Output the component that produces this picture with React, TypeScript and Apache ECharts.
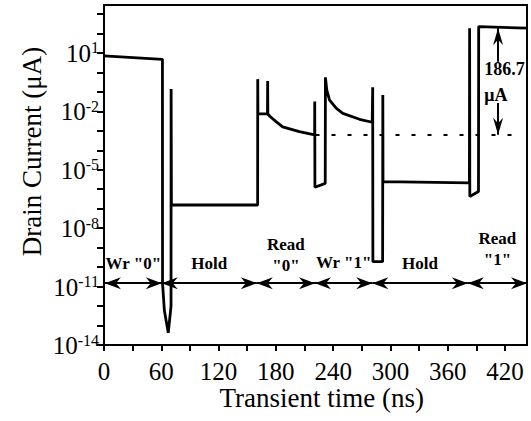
import { useEffect, useRef } from 'react';
import * as echarts from 'echarts';

const FONT = 'Liberation Serif';

// Transient drain current trace (time in ns, current in µA)
const traceTime = [
  0, 61.2, 61.3, 62.5, 63.2, 67.3, 70.2, 70.3, 70.6,
  160.9, 161.0, 161.2, 171.2, 171.4, 171.6, 173.9, 180.2, 187.1, 204.6, 220.6,
  220.7, 220.9, 231.7, 231.9, 233.3, 236.1, 243.1, 250.1, 267.6, 280.9,
  281.3, 281.4, 281.6, 291.8, 292.0, 292.2,
  382.7, 382.9, 383.1, 392.2, 392.4, 443,
];
const traceCurrent = [
  7.0, 4.7, 1.5e-11, 2e-12, 6e-13, 4.2e-14, 1e-12, 0.14, 1.55e-7,
  1.55e-7, 0.45, 7.4e-3, 7.4e-3, 0.36, 7.3e-3, 5.4e-3, 2.95e-3, 1.6e-3, 9.1e-4, 6.2e-4,
  0.032, 1.26e-6, 2.0e-6, 0.56, 0.126, 0.039, 0.0145, 7.9e-3, 3.9e-3, 2.75e-3,
  2.75e-3, 0.17, 1.9e-10, 1.9e-10, 0.069, 2.45e-6,
  2.1e-6, 186, 4.2e-7, 7.6e-7, 224, 186,
];

const xTickValues = [0, 30, 60, 90, 120, 150, 180, 210, 240, 270, 300, 330, 360, 390, 420];
const xLabelValues = [0, 60, 120, 180, 240, 300, 360, 420];
const yTickExponents = [-14, -13, -12, -11, -10, -9, -8, -7, -6, -5, -4, -3, -2, -1, 0, 1, 2, 3];
const yLabelExponents = [-14, -11, -8, -5, -2, 1];

const phaseNames = ['Wr "0"', 'Hold', 'Read\n"0"', 'Wr "1"', 'Hold', 'Read\n"1"'];
const phaseBounds = [1, 60.5, 160, 221, 281, 381, 443];
const phaseLabelDistance = [9, 9, 7, 10, 9, 13];
const phaseArrowCurrent = 1.5e-11;

const readRefCurrent = 6.2e-4;
const readRefRange = [221.5, 435];
const readOneCurrent = 186;
const annotTime = 412.7;
const upArrowFrom = 3.55;
const downArrowFrom = 0.027;
const annotText = '186.7\nμA';
const annotTextTime = 397.7;
const annotTextCurrent = 0.32;

const ARROW = 'path://M6,0 L12,16 L6,11 L0,16 Z';

export default function App() {
  const ref = useRef<HTMLDivElement>(null);
  useEffect(() => {
    document.body.style.margin = '0';
    const chart = echarts.init(ref.current!, null, { renderer: 'svg' });
    const lg = (v: number) => Math.log10(v);
    const traceData = traceTime.map((t, i) => [t, lg(traceCurrent[i])]);

    const phaseLines = phaseNames.map((name, i) => [
      {
        coord: [phaseBounds[i], lg(phaseArrowCurrent)],
        symbol: ARROW,
        symbolSize: [12, 16],
        symbolOffset: [0, 8],
        lineStyle: { color: '#000', width: 2, type: 'solid' },
        label: {
          show: true,
          formatter: name,
          position: 'insideMiddleTop',
          distance: phaseLabelDistance[i],
          fontFamily: FONT,
          fontSize: 17,
          fontWeight: 'bold',
          color: '#000',
          lineHeight: 21,
        },
      },
      {
        coord: [phaseBounds[i + 1], lg(phaseArrowCurrent)],
        symbol: ARROW,
        symbolSize: [12, 16],
        symbolOffset: [0, 8],
      },
    ]);

    const option: any = {
      animation: false,
      grid: {
        left: 104,
        right: 4,
        top: 5,
        bottom: 76,
        show: true,
        borderColor: '#000',
        borderWidth: 2,
        containLabel: false,
        outerBoundsMode: 'none',
      },
      xAxis: {
        type: 'value',
        min: 0,
        max: 443,
        interval: 60,
        splitLine: { show: false },
        axisLine: { onZero: false, lineStyle: { color: '#000', width: 2 } },
        axisTick: { length: 6, lineStyle: { color: '#000', width: 2 }, customValues: xTickValues },
        axisLabel: {
          color: '#000',
          fontFamily: FONT,
          fontSize: 25,
          margin: 14,
          customValues: xLabelValues,
          formatter: (v: number) => (v % 60 === 0 ? String(v) : ''),
        },
      },
      yAxis: {
        type: 'value',
        min: -14,
        max: 3.46,
        interval: 1,
        splitLine: { show: false },
        axisLine: { onZero: false, lineStyle: { color: '#000', width: 2 } },
        axisTick: { length: 7, lineStyle: { color: '#000', width: 2 }, customValues: yTickExponents },
        axisLabel: {
          color: '#000',
          margin: 5,
          fontFamily: FONT,
          customValues: yLabelExponents,
          formatter: (v: number) => {
            const e = Math.round(v);
            if (Math.abs(v - e) > 1e-6 || (e + 14) % 3 !== 0) return '';
            return `{b|10}{s|${e}}`;
          },
          rich: {
            b: { fontSize: 25, fontFamily: FONT, color: '#000', lineHeight: 26, verticalAlign: 'bottom' },
            s: { fontSize: 16, fontFamily: FONT, color: '#000', lineHeight: 16, verticalAlign: 'top' },
          },
        },
      },
      graphic: [
        {
          type: 'text',
          x: 32,
          y: 151.5,
          rotation: Math.PI / 2,
          style: {
            text: 'Drain Current (μA)',
            fontFamily: FONT,
            fontSize: 27,
            fill: '#000',
            align: 'center',
            verticalAlign: 'middle',
          },
        },
        {
          type: 'text',
          x: 321.7,
          y: 398,
          style: {
            text: 'Transient time (ns)',
            fontFamily: FONT,
            fontSize: 27,
            fill: '#000',
            align: 'center',
            verticalAlign: 'middle',
          },
        },
      ],
      series: [
        {
          type: 'line',
          data: traceData,
          symbol: 'none',
          showSymbol: false,
          lineStyle: { color: '#000', width: 2.8 },
          z: 3,
          markLine: {
            silent: true,
            symbol: ['none', 'none'],
            label: { show: false },
            lineStyle: { color: '#000', width: 2, type: 'solid' },
            data: [
              ...phaseLines,
              [
                { coord: [readRefRange[0], lg(readRefCurrent)], symbol: 'none', lineStyle: { color: '#000', width: 2, type: [4, 12] } },
                { coord: [readRefRange[1], lg(readRefCurrent)], symbol: 'none' },
              ],
              [
                { coord: [annotTime, lg(upArrowFrom)], symbol: 'none', lineStyle: { color: '#000', width: 2, type: 'solid' } },
                { coord: [annotTime, lg(readOneCurrent)], symbol: ARROW, symbolSize: [10, 17], symbolOffset: [0, 8.5] },
              ],
              [
                { coord: [annotTime, lg(downArrowFrom)], symbol: 'none', lineStyle: { color: '#000', width: 2, type: 'solid' } },
                { coord: [annotTime, lg(readRefCurrent)], symbol: ARROW, symbolSize: [10, 17], symbolOffset: [0, 8.5] },
              ],
            ],
          },
          markPoint: {
            silent: true,
            data: [
              {
                coord: [annotTextTime, lg(annotTextCurrent)],
                symbol: 'circle',
                symbolSize: 1,
                itemStyle: { color: 'transparent' },
                label: {
                  show: true,
                  position: 'right',
                  distance: 0,
                  formatter: annotText,
                  align: 'left',
                  fontFamily: FONT,
                  fontSize: 18,
                  fontWeight: 'bold',
                  color: '#000',
                  lineHeight: 26,
                },
              },
            ],
          },
        },
      ],
    };
    chart.setOption(option);
    return () => chart.dispose();
  }, []);
  return <div ref={ref} style={{ position: 'absolute', left: 0, top: 0, width: 531, height: 421 }} />;
}
